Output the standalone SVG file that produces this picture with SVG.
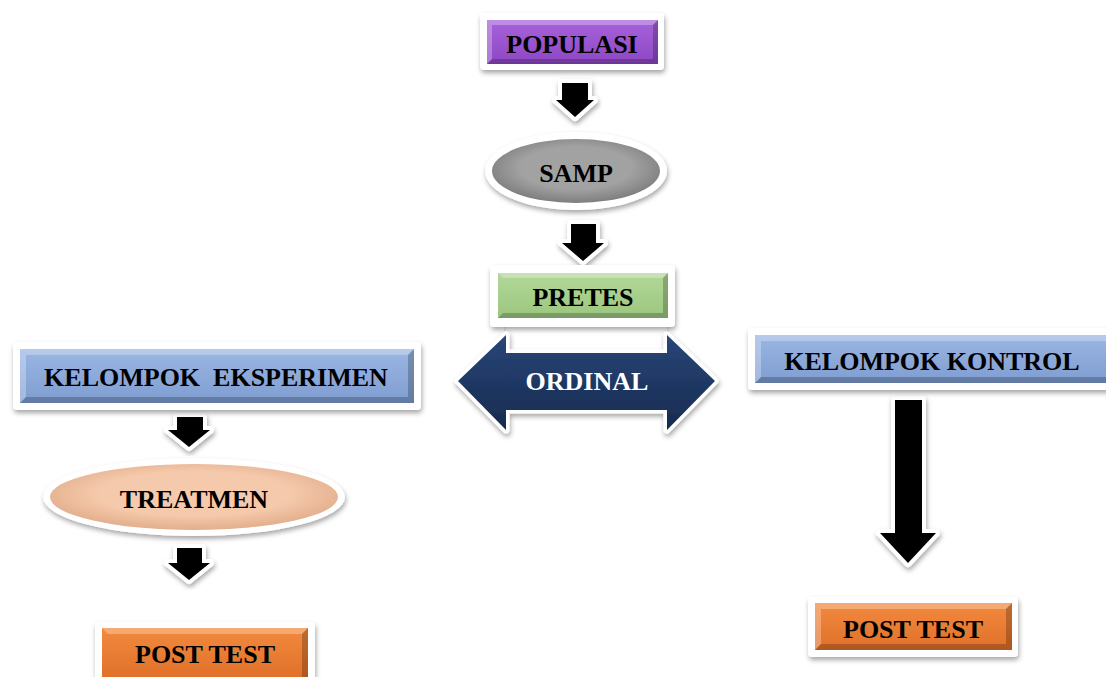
<svg xmlns="http://www.w3.org/2000/svg" width="1106" height="677" viewBox="0 0 1106 677">
<defs>
<filter id="sh" x="-20%" y="-20%" width="140%" height="150%"><feDropShadow dx="1" dy="3" stdDeviation="2.5" flood-color="#000" flood-opacity="0.35"/></filter>
<linearGradient id="gPur" x1="0" y1="0" x2="0" y2="1"><stop offset="0" stop-color="#A662DB"/><stop offset="1" stop-color="#8E47C4"/></linearGradient>
<linearGradient id="gGrn" x1="0" y1="0" x2="0" y2="1"><stop offset="0" stop-color="#B2D899"/><stop offset="1" stop-color="#9CC67F"/></linearGradient>
<linearGradient id="gBlu" x1="0" y1="0" x2="0" y2="1"><stop offset="0" stop-color="#9AB6E4"/><stop offset="1" stop-color="#7F9DD0"/></linearGradient>
<linearGradient id="gOrg" x1="0" y1="0" x2="0" y2="1"><stop offset="0" stop-color="#F28A3E"/><stop offset="1" stop-color="#E0702A"/></linearGradient>
<radialGradient id="gGry" cx="0.5" cy="0.45" r="0.55"><stop offset="0.6" stop-color="#A2A2A2"/><stop offset="1" stop-color="#7E7E7E"/></radialGradient>
<radialGradient id="gPch" cx="0.5" cy="0.45" r="0.55"><stop offset="0.6" stop-color="#F5CAAC"/><stop offset="1" stop-color="#E3AE8C"/></radialGradient>
<linearGradient id="gNav" x1="0" y1="0" x2="0" y2="1"><stop offset="0" stop-color="#2A4678"/><stop offset="0.5" stop-color="#1F3864"/><stop offset="1" stop-color="#172B4E"/></linearGradient>
</defs>
<style>
.frame{fill:#fff;filter:url(#sh)}
.lt{fill:#fff;opacity:0.28}
.dk{fill:#000;opacity:0.22}
.t{font-family:"Liberation Serif","Times New Roman",serif;font-weight:bold;font-size:26px;fill:#000;text-anchor:middle}
.tw{fill:#fff}
.arr{fill:#000;stroke:#fff;stroke-width:8;stroke-linejoin:round;paint-order:stroke;filter:url(#sh)}
</style>
<rect width="1106" height="677" fill="#fff"/>

<g id="connectors">
<path class="arr" d="M562,83 H588 V100 H594 L575,117 L556,100 H562 Z"/>
<path class="arr" d="M571,224 H596 V243 H604 L583,261 L562,243 H571 Z"/>
<path class="arr" d="M177,417 H203 V430 H210 L189,447 L168,430 H177 Z"/>
<path class="arr" d="M177,548 H202 V563 H210 L189,580 L168,563 H177 Z"/>
<path class="arr" d="M895,400 H922 V533 H936 L908,563 L880,533 H895 Z"/>
</g>

<g id="populasi">
<rect class="frame" x="480" y="13" width="184" height="57" rx="4"/>
<rect x="487" y="20" width="171" height="44" fill="url(#gPur)"/>
<polygon class="lt" points="487,20 658,20 653,25 492,25"/>
<polygon class="dk" points="487,64 658,64 653,59 492,59"/>
<polygon class="lt" points="487,20 492,25 492,59 487,64" opacity="0.15"/>
<polygon class="dk" points="658,20 653,25 653,59 658,64" opacity="0.12"/>
<text class="t" x="572" y="53">POPULASI</text>
</g>

<g id="samp">
<ellipse cx="576" cy="171" rx="91" ry="39" fill="#fff" filter="url(#sh)"/>
<ellipse cx="576" cy="171" rx="84" ry="32" fill="url(#gGry)"/>
<text class="t" x="576" y="182">SAMP</text>
</g>

<g id="pretes">
<rect x="505" y="318" width="163" height="38" fill="#fff" stroke="#ddd" stroke-width="1"/>
<rect class="frame" x="490" y="265" width="185" height="62" rx="4"/>
<rect x="498" y="273" width="170" height="45" fill="url(#gGrn)"/>
<polygon class="lt" points="498,273 668,273 663,278 503,278"/>
<polygon class="dk" points="498,318 668,318 663,313 503,313"/>
<polygon class="dk" points="668,273 663,278 663,313 668,318" opacity="0.12"/>
<text class="t" x="583" y="306">PRETES</text>
</g>

<g id="ordinal">
<path d="M458,381 L506,335 V353 H667 V335 L715,381 L667,430 V410 H506 V430 Z" fill="url(#gNav)" stroke="#fff" stroke-width="7" stroke-linejoin="round" paint-order="stroke" filter="url(#sh)"/>
<text class="t tw" x="587" y="390">ORDINAL</text>
</g>

<g id="kelompok-eksperimen">
<rect class="frame" x="13" y="342" width="408" height="68" rx="4"/>
<rect x="20" y="349" width="394" height="54" fill="url(#gBlu)"/>
<polygon class="lt" points="20,349 414,349 408,355 26,355"/>
<polygon class="dk" points="20,403 414,403 408,397 26,397"/>
<polygon class="lt" points="20,349 26,355 26,397 20,403" opacity="0.15"/>
<polygon class="dk" points="414,349 408,355 408,397 414,403" opacity="0.12"/>
<text class="t" x="216" y="386" xml:space="preserve">KELOMPOK  EKSPERIMEN</text>
</g>

<g id="treatmen">
<ellipse cx="194" cy="497" rx="151" ry="39" fill="#fff" filter="url(#sh)"/>
<ellipse cx="194" cy="497" rx="144" ry="33" fill="url(#gPch)"/>
<text class="t" x="194" y="508">TREATMEN</text>
</g>

<g id="post-test-left">
<rect class="frame" x="95" y="622" width="220" height="62" rx="4"/>
<rect x="102" y="628" width="206" height="50" fill="url(#gOrg)"/>
<polygon class="lt" points="102,628 308,628 302,634 108,634"/>
<polygon class="dk" points="308,628 302,634 302,678 308,678" opacity="0.12"/>
<text class="t" x="205" y="663">POST TEST</text>
</g>

<g id="kelompok-kontrol">
<rect class="frame" x="748" y="328" width="366" height="62" rx="4"/>
<rect x="755" y="335" width="360" height="48" fill="url(#gBlu)"/>
<polygon class="lt" points="755,335 1115,335 1109,341 761,341"/>
<polygon class="dk" points="755,383 1115,383 1109,377 761,377"/>
<polygon class="lt" points="755,335 761,341 761,377 755,383" opacity="0.15"/>
<text class="t" x="932" y="370">KELOMPOK KONTROL</text>
</g>

<g id="post-test-right">
<rect class="frame" x="808" y="597" width="210" height="60" rx="4"/>
<rect x="815" y="603" width="197" height="47" fill="url(#gOrg)"/>
<polygon class="lt" points="815,603 1012,603 1006,609 821,609"/>
<polygon class="dk" points="815,650 1012,650 1006,644 821,644"/>
<polygon class="lt" points="815,603 821,609 821,644 815,650" opacity="0.15"/>
<polygon class="dk" points="1012,603 1006,609 1006,644 1012,650" opacity="0.12"/>
<text class="t" x="913" y="638">POST TEST</text>
</g>
</svg>
